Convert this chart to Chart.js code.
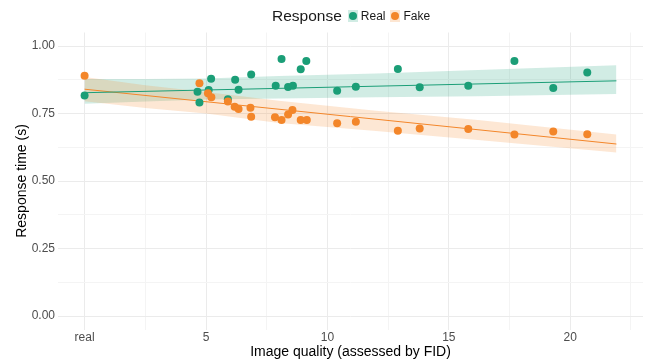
<!DOCTYPE html>
<html>
<head>
<meta charset="utf-8">
<script src="https://cdn.jsdelivr.net/npm/chart.js@4/dist/chart.umd.min.js"></script>
<style>
  html, body { margin: 0; padding: 0; background: #fff; }
  #wrap { position: relative; width: 647px; height: 363px; font-family: "Liberation Sans", Arial, sans-serif; }
  #legend { position: absolute; left: 272px; top: 7px; display: flex; align-items: center; color: #1a1a1a; }
  #legend .title { font-size: 15.5px; margin-right: 6px; }
  #legend .key { width: 10px; height: 12px; display: flex; align-items: center; justify-content: center; margin-right: 3px; }
  #legend .dot { width: 8px; height: 8px; border-radius: 50%; }
  #legend .lab { font-size: 12px; margin-right: 5px; }
</style>
</head>
<body>
<div id="wrap">
  <canvas id="c" width="647" height="363"></canvas>
  <div id="legend">
    <span class="title">Response</span>
    <span class="key" style="background:#d1ece4"><span class="dot" style="background:#1b9e77"></span></span>
    <span class="lab">Real</span>
    <span class="key" style="background:#fde6d2"><span class="dot" style="background:#f3862a"></span></span>
    <span class="lab">Fake</span>
  </div>
</div>
<script>
// points (x = FID, 0 = real images)
const realX = [0, 4.65, 4.73, 5.11, 5.21, 5.9, 6.2, 6.34, 6.86, 7.87, 8.11, 8.38, 8.58, 8.9, 9.13, 10.4, 11.17, 12.9, 13.8, 15.8, 17.7, 19.3, 20.7];
const realY = [0.817, 0.831, 0.791, 0.837, 0.879, 0.803, 0.875, 0.838, 0.894, 0.853, 0.952, 0.848, 0.853, 0.914, 0.944, 0.834, 0.849, 0.915, 0.847, 0.853, 0.944, 0.844, 0.902];
const fakeX = [0, 4.73, 5.08, 5.22, 5.9, 6.18, 6.34, 6.83, 6.86, 7.84, 8.11, 8.38, 8.56, 8.9, 9.15, 10.4, 11.17, 12.9, 13.8, 15.8, 17.7, 19.3, 20.7];
const fakeY = [0.890, 0.862, 0.825, 0.810, 0.794, 0.775, 0.767, 0.771, 0.738, 0.736, 0.726, 0.746, 0.763, 0.726, 0.726, 0.714, 0.719, 0.686, 0.694, 0.693, 0.672, 0.683, 0.673];

// fitted lines (end points) and confidence bands
const fitX = [0, 21.9];
const realFit = [0.827, 0.871];
const fakeFit = [0.840, 0.637];
const bandX = [0, 2.5, 5, 8, 12, 16.2, 21.9];
const realUpper = [0.878, 0.878, 0.880, 0.889, 0.898, 0.911, 0.929];
const realLower = [0.786, 0.794, 0.802, 0.806, 0.810, 0.814, 0.822];
const fakeUpper = [0.885, 0.855, 0.830, 0.797, 0.760, 0.726, 0.672];
const fakeLower = [0.795, 0.770, 0.750, 0.715, 0.685, 0.652, 0.606];

// ticks
const xMajor = [0, 5, 10, 15, 20];
const xLabels = ['real', '5', '10', '15', '20'];
const xMinor = [2.5, 7.5, 12.5, 17.5, 22.5];
const yMajor = [0, 0.25, 0.5, 0.75, 1];
const yMinor = [0.125, 0.375, 0.625, 0.875];

const GREEN = '#1b9e77';
const ORANGE = '#f3862a';

const pts = (xs, ys) => xs.map((x, i) => ({ x: x, y: ys[i] }));

const tickFont = { family: '"Liberation Sans", Arial, sans-serif', size: 12 };
const titleFont = { family: '"Liberation Sans", Arial, sans-serif', size: 14 };

function gridColor(major) {
  return ctx => major.includes(ctx.tick && ctx.tick.value) ? '#ebebeb' : '#f4f4f4';
}

new Chart(document.getElementById('c'), {
  type: 'scatter',
  data: {
    datasets: [
      { label: 'Real', data: pts(realX, realY), backgroundColor: GREEN, borderWidth: 0, pointRadius: 4, order: 1 },
      { label: 'Fake', data: pts(fakeX, fakeY), backgroundColor: ORANGE, borderWidth: 0, pointRadius: 4, order: 0 },
      { type: 'line', data: pts(fitX, realFit), borderColor: GREEN, borderWidth: 1, pointRadius: 0, order: 2 },
      { type: 'line', data: pts(fitX, fakeFit), borderColor: ORANGE, borderWidth: 1, pointRadius: 0, order: 2 },
      { type: 'line', data: pts(bandX, realUpper), borderWidth: 0, pointRadius: 0, fill: '+1', backgroundColor: 'rgba(27,158,119,0.2)', order: 5 },
      { type: 'line', data: pts(bandX, realLower), borderWidth: 0, pointRadius: 0, fill: false, order: 5 },
      { type: 'line', data: pts(bandX, fakeUpper), borderWidth: 0, pointRadius: 0, fill: '+1', backgroundColor: 'rgba(243,134,42,0.2)', order: 4 },
      { type: 'line', data: pts(bandX, fakeLower), borderWidth: 0, pointRadius: 0, fill: false, order: 4 }
    ]
  },
  options: {
    responsive: false,
    animation: false,
    layout: { padding: { top: 32.5, left: 0, right: 0, bottom: 0 } },
    plugins: { legend: { display: false }, tooltip: { enabled: false } },
    scales: {
      x: {
        type: 'linear',
        min: -1.095,
        max: 22.995,
        afterBuildTicks: axis => { axis.ticks = xMajor.concat(xMinor).sort((a, b) => a - b).map(v => ({ value: v })); },
        afterFit: axis => { axis.height = 33.5; axis.paddingLeft = 0; axis.paddingRight = 0; },
        ticks: {
          autoSkip: false, maxRotation: 0, padding: 1, color: '#4d4d4d', font: tickFont,
          callback: v => { const i = xMajor.indexOf(v); return i >= 0 ? xLabels[i] : ''; }
        },
        grid: { color: gridColor(xMajor), lineWidth: 1, drawTicks: false },
        border: { display: false },
        title: { display: true, text: 'Image quality (assessed by FID)', color: '#000', font: titleFont, padding: { top: 0, bottom: 2.6 } }
      },
      y: {
        type: 'linear',
        min: -0.05,
        max: 1.05,
        afterBuildTicks: axis => { axis.ticks = yMajor.concat(yMinor).sort((a, b) => a - b).map(v => ({ value: v })); },
        afterFit: axis => { axis.width = 58; axis.paddingTop = 0; axis.paddingBottom = 0; },
        ticks: {
          padding: 3, color: '#4d4d4d', font: tickFont,
          callback: v => yMajor.includes(v) ? v.toFixed(2) : ''
        },
        grid: { color: gridColor(yMajor), lineWidth: 1, drawTicks: false },
        border: { display: false },
        title: { display: true, text: 'Response time (s)', color: '#000', font: titleFont, padding: { top: 13.6, bottom: 0 } }
      }
    }
  }
});
</script>
</body>
</html>
